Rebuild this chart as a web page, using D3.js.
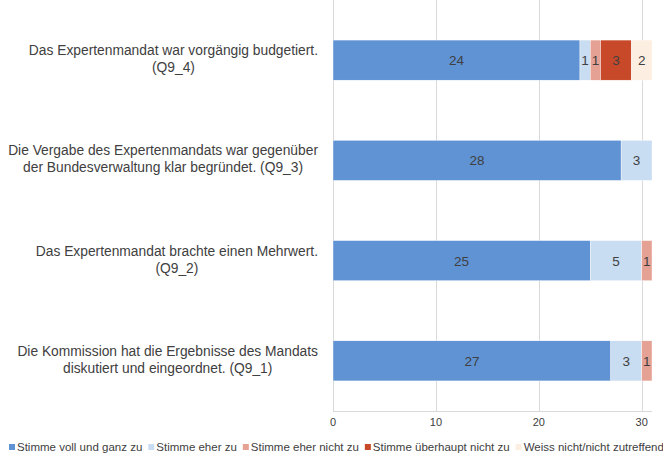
<!DOCTYPE html>
<html>
<head>
<meta charset="utf-8">
<script src="https://cdn.jsdelivr.net/npm/d3@7"></script>
<style>
  body{margin:0;background:#fff;}
  text{font-family:"Liberation Sans",Arial,sans-serif;fill:#404040;}
</style>
</head>
<body>
<svg id="chart" width="663" height="457"></svg>
<script>
// data
var categories = [
  ["Das Expertenmandat war vorgängig budgetiert.", "(Q9_4)"],
  ["Die Vergabe des Expertenmandats war gegenüber", "der Bundesverwaltung klar begründet. (Q9_3)"],
  ["Das Expertenmandat brachte einen Mehrwert.", "(Q9_2)"],
  ["Die Kommission hat die Ergebnisse des Mandats", "diskutiert und eingeordnet. (Q9_1)"]
];
var seriesNames = ["Stimme voll und ganz zu", "Stimme eher zu", "Stimme eher nicht zu", "Stimme überhaupt nicht zu", "Weiss nicht/nicht zutreffend"];
var colors = ["#5f93d4", "#c8dcf2", "#e5a193", "#c8492a", "#fdeee2"];
var voll   = [24, 28, 25, 27];
var eher   = [1, 3, 5, 3];
var ehNich = [1, 0, 1, 1];
var ueber  = [3, 0, 0, 0];
var weiss  = [2, 0, 0, 0];
var xTicks = [0, 10, 20, 30];

var series = [voll, eher, ehNich, ueber, weiss];
var svg = d3.select("#chart");
var pLeft = 333, pRight = 652, pTop = 10, pBottom = 411;

var x = d3.scaleLinear().domain([0, 31]).range([pLeft, pRight]);
var y = d3.scaleBand().domain(d3.range(categories.length)).range([pTop, pBottom]).paddingInner(0.6).paddingOuter(0.3);

// gridlines
svg.append("g").selectAll("line").data(xTicks.slice(1)).enter().append("line")
  .attr("x1", function(d){ return Math.round(x(d)) + 0.5; })
  .attr("x2", function(d){ return Math.round(x(d)) + 0.5; })
  .attr("y1", 0).attr("y2", pBottom)
  .attr("stroke", "#d9d9d9").attr("stroke-width", 1);

// axes lines
svg.append("line").attr("x1", pLeft + 0.5).attr("x2", pLeft + 0.5).attr("y1", 0).attr("y2", pBottom + 0.5)
  .attr("stroke", "#d9d9d9");
svg.append("line").attr("x1", pLeft).attr("x2", pRight).attr("y1", pBottom + 0.5).attr("y2", pBottom + 0.5)
  .attr("stroke", "#d9d9d9");

// tick labels
svg.append("g").selectAll("text").data(xTicks).enter().append("text")
  .attr("x", function(d){ return x(d); })
  .attr("y", 426)
  .attr("text-anchor", "middle")
  .style("font-size", "11px")
  .text(function(d){ return d; });

// stacked bars
var rows = categories.map(function(c, i){
  var acc = 0;
  return series.map(function(s, k){
    var seg = {row: i, k: k, v: s[i], x0: acc, x1: acc + s[i]};
    acc += s[i];
    return seg;
  }).filter(function(d){ return d.v > 0; });
});
var segs = [].concat.apply([], rows);

svg.append("g").selectAll("rect").data(segs).enter().append("rect")
  .attr("x", function(d){ return x(d.x0); })
  .attr("width", function(d){ return x(d.x1) - x(d.x0); })
  .attr("y", function(d){ return y(d.row); })
  .attr("height", y.bandwidth())
  .attr("fill", function(d){ return colors[d.k]; })
  .attr("stroke", "#fff").attr("stroke-width", 0.4);

svg.append("g").selectAll("text").data(segs).enter().append("text")
  .attr("x", function(d){ return (x(d.x0) + x(d.x1)) / 2; })
  .attr("y", function(d){ return y(d.row) + y.bandwidth() / 2 + 5; })
  .attr("text-anchor", "middle")
  .style("font-size", "13.5px")
  .text(function(d){ return d.v; });

// category labels: block right-aligned, lines centered
var labelRight = 318;
categories.forEach(function(lines, i){
  var g = svg.append("g");
  var cy = y(i) + y.bandwidth() / 2;
  var ts = lines.map(function(l, j){
    return g.append("text").style("font-size", "13.8px")
      .attr("text-anchor", "middle")
      .attr("y", cy + 3.5 + (j - (lines.length - 1) / 2) * 17)
      .text(l);
  });
  var w = d3.max(ts, function(t){ return t.node().getComputedTextLength(); });
  ts.forEach(function(t){ t.attr("x", labelRight - w / 2); });
});

// legend
var lx = 9, ly = 451;
seriesNames.forEach(function(n, k){
  svg.append("rect").attr("x", lx).attr("y", ly - 7).attr("width", 6).attr("height", 6).attr("fill", colors[k]);
  var t = svg.append("text").attr("x", lx + 8).attr("y", ly).style("font-size", "11.5px").text(n);
  lx += 8 + t.node().getComputedTextLength() + 6;
});
</script>
</body>
</html>
